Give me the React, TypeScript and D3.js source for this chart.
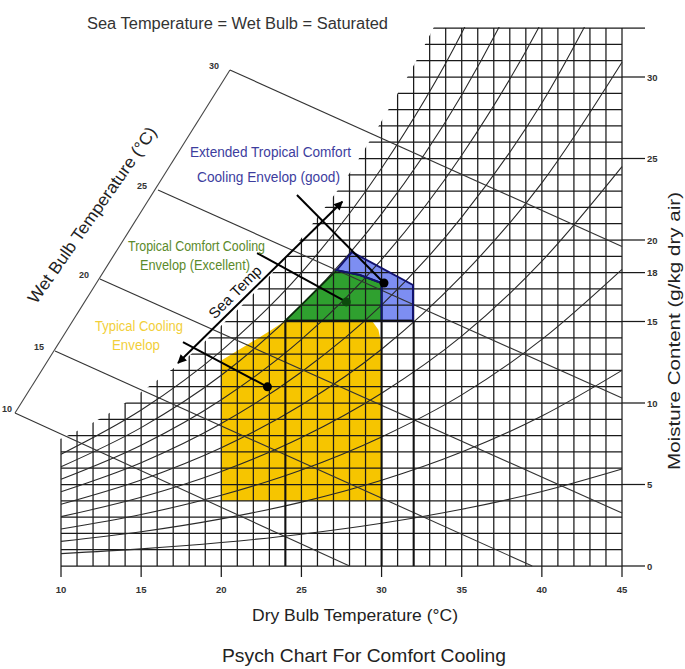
import React from 'react';
import * as d3 from 'd3';

// axis ticks
const dryBulbTicks = [10, 15, 20, 25, 30, 35, 40, 45];
const moistureTicks = [0, 5, 10, 15, 18, 20, 25, 30];
const moistureTop = 33;

// saturation curve (grid left boundary), g/kg
const satTemps = [10, 12, 14, 16, 18, 20, 22, 24, 26, 28, 30, 32, 34];
const satMoisture = [7.8, 8.8, 10.0, 11.4, 12.9, 14.75, 16.7, 18.9, 21.4, 24.1, 27.3, 30.7, 34.5];

// relative humidity curves 10%..90%
const rhTemps = [10, 15, 20, 25, 30, 35, 40, 45];
const rh10 = [0.76, 1.05, 1.44, 1.95, 2.62, 3.48, 4.57, 5.95];
const rh20 = [1.51, 2.1, 2.89, 3.92, 5.26, 6.99, 9.2, 12.0];
const rh30 = [2.27, 3.16, 4.34, 5.89, 7.92, 10.5, 13.9, 18.2];
const rh40 = [3.03, 4.22, 5.8, 7.88, 10.6, 14.1, 18.7, 24.5];
const rh50 = [3.79, 5.28, 7.26, 9.88, 13.3, 17.8, 23.5, 30.9];
const rh60 = [4.56, 6.34, 8.74, 11.9, 16.0, 21.4, 28.4, 37.5];
const rh70 = [5.32, 7.41, 10.2, 13.9, 18.8, 25.2, 33.4, 44.1];
const rh80 = [6.09, 8.49, 11.7, 16.0, 21.6, 28.9, 38.5, 51.0];
const rh90 = [6.86, 9.57, 13.2, 18.0, 24.4, 32.7, 43.7, 57.9];
const rhCurves = [rh10, rh20, rh30, rh40, rh50, rh60, rh70, rh80, rh90];

// wet bulb lines: point on the wet bulb scale -> end on the grid edge
const wetBulbLabels = ['10', '15', '20', '25', '30'];
const wbScaleT = [7.13, 9.63, 12.43, 16.05, 20.54];
const wbScaleW = [9.39, 13.19, 17.61, 23.07, 30.43];
const wbEndT = [28.0, 39.4, 45, 45, 45];
const wbEndW = [0, 0, 3.25, 10.3, 19.6];

// envelopes
const typicalT = [20, 20, 21, 22, 23, 24, 29.4, 29.8, 30, 30];
const typicalW = [4, 12.6, 13.2, 13.8, 14.4, 15.05, 15.05, 14.5, 13.6, 4];
const tropicalT = [24, 27.2, 28.65, 30, 30];
const tropicalW = [15.05, 18.15, 17.85, 17.36, 15.05];
const extendedT = [27.2, 28.15, 31.96, 31.96, 30, 30, 28.65];
const extendedW = [18.15, 19.26, 17.24, 15.05, 15.05, 17.36, 17.85];

// label leaders: start -> dot (extended, tropical, typical)
const leaderT = [24.72, 22.23, 17.61];
const leaderW = [22.76, 19.2, 13.74];
const dotT = [30.15, 27.8, 22.88];
const dotW = [17.36, 16.2, 10.99];

// sea temp arrow
const seaT = [17.3, 27.55];
const seaW = [12.45, 22.35];

const font = 'Liberation Sans, Arial, sans-serif';

export default function App() {
  const width = 685;
  const height = 669;

  const x = d3.scaleLinear().domain([10, 45]).range([61, 622]);
  const y = d3.scaleLinear().domain([0, 30]).range([566, 77]);

  const gridT = d3.range(10, 46);
  const gridW = d3.range(0, moistureTop + 1);

  const curve = d3.line<[number, number]>().curve(d3.curveMonotoneX);
  const satPath = curve(satTemps.map((t, i) => [x(t), y(satMoisture[i])])) || '';
  const clipD =
    `M${x(10) - 1},${y(0) + 2}L${x(10) - 1},${y(satMoisture[0])}` +
    satPath.replace(/^M/, 'L') +
    `L${x(45) + 2},${y(satMoisture[satMoisture.length - 1])}L${x(45) + 2},${y(0) + 2}Z`;

  const poly = (ts: number[], ws: number[]) =>
    'M' + ts.map((t, i) => `${x(t)},${y(ws[i])}`).join('L') + 'Z';

  const rhPath = (ws: number[]) => curve(rhTemps.map((t, i) => [x(t), y(ws[i])])) || '';

  const n = wbScaleT.length;

  return (
    <div style={{ position: 'absolute', left: 0, top: 0 }}>
      <svg width={width} height={height} style={{ display: 'block', background: '#fff' }} fontFamily={font}>
        <defs>
          <clipPath id="satClip">
            <path d={clipD} />
          </clipPath>
          <clipPath id="topClip">
            <rect x={x(10) - 2} y={y(moistureTop) - 1} width={x(45) - x(10) + 4} height={y(0) - y(moistureTop) + 3} />
          </clipPath>
          <marker id="ah" viewBox="0 0 10 10" refX="9" refY="5" markerWidth="11" markerHeight="9"
            markerUnits="userSpaceOnUse" orient="auto-start-reverse">
            <path d="M0,0L10,5L0,10Z" fill="#000" />
          </marker>
        </defs>

        {/* title */}
        <text x={87} y={29} fontSize={16} fill="#333" textLength={301} lengthAdjust="spacingAndGlyphs">
          Sea Temperature = Wet Bulb = Saturated
        </text>

        {/* envelopes */}
        <path d={poly(typicalT, typicalW)} fill="#F6C500" />
        <path d={poly(tropicalT, tropicalW)} fill="#2FA02F" />
        <path d={poly(extendedT, extendedW)} fill="#7D8EF2" />

        {/* grid */}
        <g clipPath="url(#topClip)">
          <g clipPath="url(#satClip)">
            {gridT.map((t) => (
              <line key={'v' + t} x1={x(t)} x2={x(t)} y1={y(0)} y2={y(moistureTop)} stroke="#1a1a1a" strokeWidth={1.25} />
            ))}
            {gridW.map((w) => (
              <line key={'h' + w} x1={x(10)} x2={x(45)} y1={y(w)} y2={y(w)} stroke="#1a1a1a" strokeWidth={1.25} />
            ))}
            {rhCurves.map((ws, i) => (
              <path key={'rh' + i} d={rhPath(ws)} fill="none" stroke="#2a2a2a" strokeWidth={1.1} />
            ))}
          </g>
        </g>

        {/* wet bulb scale */}
        <line x1={x(wbScaleT[0])} y1={y(wbScaleW[0])} x2={x(wbScaleT[n - 1])} y2={y(wbScaleW[n - 1])}
          stroke="#444" strokeWidth={1.1} />
        {wbScaleT.map((t, i) => (
          <g key={'wb' + i}>
            <line x1={x(t)} y1={y(wbScaleW[i])} x2={x(wbEndT[i])} y2={y(wbEndW[i])} stroke="#333" strokeWidth={1.1} />
            <text x={i === 0 ? 7 : x(t) - 16} y={y(wbScaleW[i]) - 1} fontSize={9} fontWeight="bold" fill="#333"
              textAnchor="middle">
              {wetBulbLabels[i]}
            </text>
          </g>
        ))}

        {/* envelope edges */}
        <line x1={x(24)} x2={x(24)} y1={y(0)} y2={y(15.05)} stroke="#111" strokeWidth={2} />
        <line x1={x(30)} x2={x(30)} y1={y(0)} y2={y(15.05)} stroke="#111" strokeWidth={2} />
        <line x1={x(32)} x2={x(32)} y1={y(0)} y2={y(15.05)} stroke="#111" strokeWidth={2} />
        <path d={poly(tropicalT, tropicalW)} fill="none" stroke="#0b2e0b" strokeWidth={1.8} />
        <path d={poly(extendedT, extendedW)} fill="none" stroke="#12126e" strokeWidth={2} />
        <line x1={x(24)} x2={x(32)} y1={y(15.05)} y2={y(15.05)} stroke="#111" strokeWidth={2} />

        {/* right axis */}
        {[...moistureTicks, moistureTop].map((w) => (
          <line key={'rt' + w} x1={x(45)} x2={645} y1={y(w)} y2={y(w)} stroke="#1a1a1a" strokeWidth={1.25} />
        ))}
        {moistureTicks.map((w) => (
          <text key={'rl' + w} x={647} y={y(w) + 3.5} fontSize={9.5} fontWeight="bold" fill="#333">{w}</text>
        ))}
        <text transform={`translate(680,331) rotate(-90)`} fontSize={17} fill="#222" textAnchor="middle"
          textLength={278} lengthAdjust="spacingAndGlyphs">
          Moisture Content (g/kg dry air)
        </text>

        {/* bottom axis */}
        {dryBulbTicks.map((t) => (
          <g key={'bt' + t}>
            <line x1={x(t)} x2={x(t)} y1={y(0)} y2={y(0) + 11} stroke="#1a1a1a" strokeWidth={1.25} />
            <text x={x(t)} y={y(0) + 27} fontSize={9.5} fontWeight="bold" fill="#333" textAnchor="middle">{t}</text>
          </g>
        ))}
        <text x={252} y={621} fontSize={17} fill="#222" textLength={206} lengthAdjust="spacingAndGlyphs">
          Dry Bulb Temperature (°C)
        </text>
        <text x={222} y={662} fontSize={19} fill="#222" textLength={284} lengthAdjust="spacingAndGlyphs">
          Psych Chart For Comfort Cooling
        </text>

        {/* wet bulb title */}
        <text transform="translate(92,215) rotate(-55)" dy="0.35em" fontSize={17} fill="#222" textAnchor="middle"
          textLength={211} lengthAdjust="spacingAndGlyphs">
          Wet Bulb Temperature (°C)
        </text>

        {/* sea temp arrow */}
        <line x1={x(seaT[0])} y1={y(seaW[0])} x2={x(seaT[1])} y2={y(seaW[1])} stroke="#000" strokeWidth={2}
          markerStart="url(#ah)" markerEnd="url(#ah)" />
        <text transform="translate(235,292) rotate(-45)" dy="0.35em" fontSize={15} fill="#111" textAnchor="middle"
          textLength={68} lengthAdjust="spacingAndGlyphs">
          Sea Temp
        </text>

        {/* leaders and dots */}
        {leaderT.map((t, i) => (
          <line key={'ld' + i} x1={x(t)} y1={y(leaderW[i])} x2={x(dotT[i])} y2={y(dotW[i])} stroke="#000" strokeWidth={2} />
        ))}
        {dotT.map((t, i) => (
          <circle key={'dt' + i} cx={x(t)} cy={y(dotW[i])} r={4.5} fill={i === 1 ? '#0c4a0c' : '#000'} />
        ))}

        {/* annotation labels */}
        <g fontSize={14}>
          <text x={190} y={157} fill="#3d3d9e" textLength={161} lengthAdjust="spacingAndGlyphs">Extended Tropical Comfort</text>
          <text x={197} y={182} fill="#3d3d9e" textLength={143} lengthAdjust="spacingAndGlyphs">Cooling Envelop (good)</text>
          <text x={128} y={251} fill="#5b8a2b" textLength={137} lengthAdjust="spacingAndGlyphs">Tropical Comfort Cooling</text>
          <text x={140} y={270} fill="#5b8a2b" textLength={110} lengthAdjust="spacingAndGlyphs">Envelop (Excellent)</text>
          <text x={95} y={331} fill="#f2cf3a" textLength={88} lengthAdjust="spacingAndGlyphs">Typical Cooling</text>
          <text x={112} y={350} fill="#f2cf3a" textLength={48} lengthAdjust="spacingAndGlyphs">Envelop</text>
        </g>
      </svg>
    </div>
  );
}
